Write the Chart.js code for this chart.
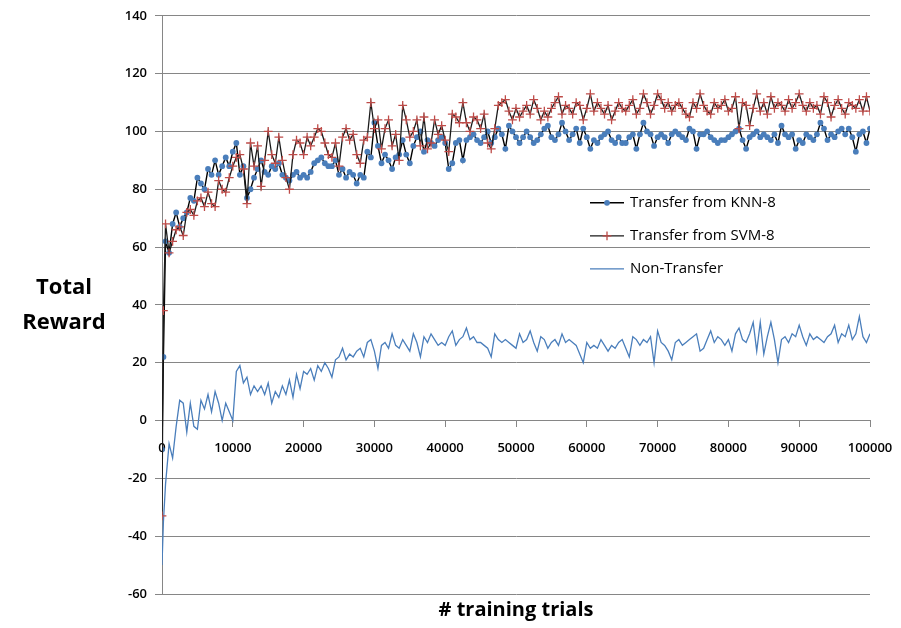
<!DOCTYPE html>
<html>
<head>
<meta charset="utf-8">
<script src="https://cdn.jsdelivr.net/npm/chart.js@4.4.1/dist/chart.umd.min.js"></script>
<style>
  body { margin: 0; background: #fff; }
  #wrap { position: relative; width: 901px; height: 628px; }
  #y-title {
    position: absolute; left: 0; top: 268px; width: 128px;
    text-align: center; font: bold 22px "Open Sans", sans-serif;
    line-height: 35px; color: #000;
  }
</style>
</head>
<body>
<div id="wrap">
  <canvas id="reward-chart" width="901" height="628"></canvas>
  <div id="y-title">Total<br>Reward</div>
</div>
<script>
// training trials: first two early samples, then every 500 trials
const trials = [0, 200].concat(Array.from({ length: 200 }, (_, i) => 500 * (i + 1)));

const knnReward = [
  -10, 22,
  62, 58, 68, 72, 67, 70, 72, 77, 76, 84,
  82, 80, 87, 85, 90, 85, 88, 91, 88, 93,
  96, 85, 88, 77, 80, 84, 87, 90, 86, 85,
  88, 87, 89, 85, 84, 83, 85, 86, 84, 85,
  84, 86, 89, 90, 91, 89, 88, 88, 90, 85,
  87, 84, 86, 85, 82, 85, 84, 93, 91, 103,
  95, 89, 92, 90, 87, 91, 92, 97, 92, 89,
  95, 98, 100, 93, 97, 96, 95, 97, 98, 96,
  87, 89, 96, 97, 90, 97, 98, 99, 97, 96,
  98, 100, 96, 98, 101, 99, 94, 102, 100, 98,
  96, 98, 100, 98, 96, 97, 99, 101, 102, 98,
  97, 99, 103, 100, 97, 99, 101, 96, 101, 98,
  94, 97, 96, 98, 99, 100, 97, 96, 98, 96,
  96, 98, 99, 94, 99, 103, 100, 99, 95, 98,
  99, 98, 96, 99, 100, 99, 98, 97, 101, 100,
  94, 99, 99, 100, 98, 97, 96, 97, 97, 98,
  99, 100, 101, 97, 94, 98, 99, 100, 98, 99,
  98, 97, 99, 96, 102, 99, 98, 99, 94, 97,
  96, 99, 98, 97, 99, 103, 101, 97, 99, 98,
  100, 101, 99, 101, 98, 93, 99, 100, 96, 101,
];

const svmReward = [
  -33, 38,
  68, 58, 62, 66, 67, 64, 72, 73, 71, 76,
  77, 74, 79, 75, 74, 83, 80, 79, 84, 88,
  91, 92, 87, 75, 96, 88, 95, 81, 90, 100,
  92, 89, 98, 90, 84, 80, 92, 97, 96, 92,
  98, 95, 98, 101, 100, 96, 92, 91, 96, 88,
  98, 101, 97, 99, 92, 89, 97, 98, 110, 101,
  104, 94, 101, 104, 95, 99, 90, 109, 104, 98,
  100, 104, 95, 105, 94, 96, 104, 99, 102, 97,
  93, 106, 105, 103, 110, 103, 100, 105, 104, 101,
  106, 96, 94, 101, 109, 110, 111, 107, 104, 108,
  105, 107, 109, 106, 111, 108, 104, 107, 105, 108,
  110, 112, 106, 109, 108, 106, 110, 109, 104, 108,
  113, 107, 110, 108, 106, 109, 104, 107, 110, 108,
  107, 109, 111, 106, 108, 113, 110, 106, 109, 113,
  111, 108, 110, 107, 109, 110, 108, 106, 105, 110,
  108, 113, 109, 107, 106, 110, 108, 109, 111, 107,
  108, 112, 101, 110, 109, 102, 108, 113, 107, 110,
  106, 112, 108, 110, 109, 107, 111, 108, 110, 113,
  109, 107, 110, 108, 109, 106, 112, 110, 105, 109,
  111, 108, 106, 110, 109, 108, 111, 107, 112, 107,
];

const nonTransferReward = [
  -50, -35,
  -22, -8, -13, -2, 7, 6, -4, 6, -2, -3,
  7, 4, 9, 3, 10, 6, 0, 6, 3, 0,
  17, 19, 13, 15, 9, 12, 10, 12, 9, 13,
  6, 10, 8, 12, 9, 14, 8, 16, 11, 17,
  16, 18, 14, 19, 17, 20, 18, 15, 21, 22,
  25, 21, 23, 22, 24, 25, 22, 27, 28, 24,
  18, 26, 27, 25, 30, 26, 25, 28, 26, 24,
  30, 27, 22, 29, 27, 30, 28, 26, 27, 26,
  29, 31, 26, 28, 29, 32, 28, 29, 27, 27,
  26, 25, 22, 30, 28, 27, 28, 27, 26, 25,
  30, 27, 28, 31, 27, 24, 29, 28, 25, 27,
  28, 26, 30, 27, 28, 27, 26, 23, 20, 27,
  25, 26, 25, 28, 26, 24, 26, 25, 27, 28,
  25, 22, 29, 28, 26, 28, 27, 29, 20, 31,
  27, 26, 24, 21, 27, 28, 26, 27, 28, 29,
  30, 24, 25, 28, 31, 27, 29, 28, 26, 28,
  24, 30, 32, 28, 27, 30, 34, 24, 34, 23,
  29, 34, 28, 20, 28, 29, 27, 30, 29, 33,
  29, 26, 30, 28, 29, 28, 27, 29, 30, 33,
  27, 30, 29, 33, 28, 30, 36, 29, 27, 30,
];

const seriesNames = ['Transfer from KNN-8', 'Transfer from SVM-8', 'Non-Transfer'];

const toPoints = (values) => values.map((v, i) => ({ x: trials[i], y: v }));

const gridGrey = '#868686';
const blue = '#4a7ebb';
const red = '#be4b48';

// legend drawn inside the plot, like the Excel original
const insideLegend = {
  id: 'insideLegend',
  afterDraw(chart) {
    const { ctx, chartArea } = chart;
    const x0 = chartArea.left + 428;
    let y = chartArea.top + 187;
    chart.data.datasets.forEach((ds) => {
      ctx.save();
      ctx.strokeStyle = ds.borderColor;
      ctx.lineWidth = ds.borderWidth;
      ctx.beginPath();
      ctx.moveTo(x0, y);
      ctx.lineTo(x0 + 34, y);
      ctx.stroke();
      const cx = x0 + 17;
      if (ds.pointStyle === 'circle' && ds.pointRadius > 0) {
        ctx.fillStyle = ds.pointBackgroundColor;
        ctx.beginPath();
        ctx.arc(cx, y, ds.pointRadius, 0, Math.PI * 2);
        ctx.fill();
      } else if (ds.pointStyle === 'cross' && ds.pointRadius > 0) {
        ctx.strokeStyle = ds.pointBorderColor;
        ctx.lineWidth = ds.pointBorderWidth;
        ctx.beginPath();
        ctx.moveTo(cx - ds.pointRadius, y);
        ctx.lineTo(cx + ds.pointRadius, y);
        ctx.moveTo(cx, y - ds.pointRadius);
        ctx.lineTo(cx, y + ds.pointRadius);
        ctx.stroke();
      }
      ctx.fillStyle = '#000';
      ctx.font = '15px "Open Sans", sans-serif';
      ctx.textBaseline = 'middle';
      ctx.fillText(ds.label, x0 + 40, y);
      ctx.restore();
      y += 33;
    });
  },
};

const rewardCanvas = document.getElementById('reward-chart');

let rewardChart = new Chart(rewardCanvas, {
  type: 'line',
  data: {
    datasets: [
      {
        label: seriesNames[0],
        data: toPoints(knnReward),
        borderColor: '#000',
        borderWidth: 1.4,
        pointStyle: 'circle',
        pointRadius: 2.9,
        pointBorderWidth: 0,
        pointBackgroundColor: blue,
        pointBorderColor: blue,
        order: 2,
      },
      {
        label: seriesNames[1],
        data: toPoints(svmReward),
        borderColor: '#1a1a1a',
        borderWidth: 1.3,
        pointStyle: 'cross',
        pointRadius: 4.4,
        pointBorderWidth: 1.3,
        pointBackgroundColor: red,
        pointBorderColor: red,
        order: 1,
      },
      {
        label: seriesNames[2],
        data: toPoints(nonTransferReward),
        borderColor: blue,
        borderWidth: 1.3,
        pointRadius: 0,
        pointStyle: 'line',
        order: 3,
      },
    ],
  },
  options: {
    responsive: false,
    animation: false,
    layout: { padding: { left: 0, right: 31, top: 13, bottom: 1 } },
    scales: {
      x: {
        type: 'linear',
        min: 0,
        max: 100000,
        position: { y: 0 },
        ticks: {
          stepSize: 10000,
          color: '#000',
          font: { family: 'Open Sans', size: 13, weight: '600' },
          padding: 14,
          maxRotation: 0,
          callback: (v) => String(v),
        },
        grid: { drawOnChartArea: false, color: gridGrey, tickLength: 6 },
        border: { color: gridGrey },
        // labels may overhang into the right margin, as in the original
        afterFit: (scale) => { scale.paddingRight = 0; scale.paddingLeft = 0; },
      },
      y: {
        min: -60,
        max: 140,
        ticks: {
          stepSize: 20,
          color: '#000',
          font: { family: 'Open Sans', size: 13, weight: '600' },
          padding: 8,
        },
        grid: { color: gridGrey, tickLength: 7 },
        border: { color: gridGrey },
        afterFit: (scale) => { scale.width = 162; },
      },
    },
    plugins: {
      legend: { display: false },
      tooltip: { enabled: false },
      title: {
        display: true,
        position: 'bottom',
        fullSize: false,
        text: '# training trials',
        color: '#000',
        font: { family: 'Open Sans', size: 20, weight: 'bold' },
        padding: { top: 4, bottom: 5 },
      },
    },
  },
  plugins: [insideLegend],
});
</script>
</body>
</html>
